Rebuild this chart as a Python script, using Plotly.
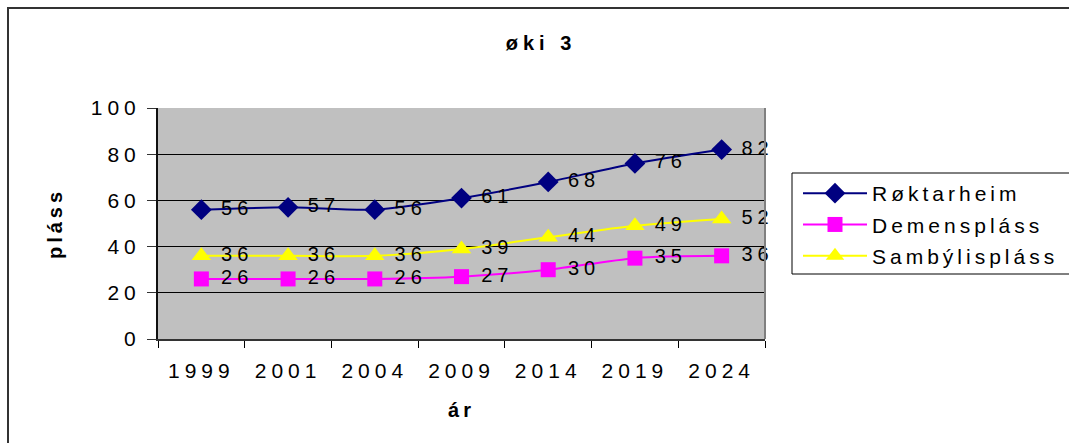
import plotly.graph_objects as go

years = ["1999", "2001", "2004", "2009", "2014", "2019", "2024"]
roktarheim = [56, 57, 56, 61, 68, 76, 82]
demens = [26, 26, 26, 27, 30, 35, 36]
sambyli = [36, 36, 36, 39, 44, 49, 52]

W, H = 1069, 443
L, R, T, B = 158, 765, 108, 339
FONT = "Arial, Liberation Sans, sans-serif"

pw, ph = R - L, B - T
def px(x):
    return (x - L) / pw
def py(y):
    return (B - y) / ph

fig = go.Figure()
series = [
    ("Røktarheim", roktarheim, "#000080", "diamond", 16),
    ("Demenspláss", demens, "#FF00FF", "square", 15),
    ("Sambýlispláss", sambyli, "#FFFF00", "triangle-up", 17),
]
for i, (name, vals, col, sym, sz) in enumerate(series):
    fig.add_trace(go.Scatter(
        x=years, y=vals, name=name, mode="lines+markers",
        legendgroup=f"g{i}",
        line=dict(color=col, width=2, shape="spline", smoothing=0.8),
        marker=dict(symbol=sym, size=sz, color=col, line=dict(width=0)),
        cliponaxis=False,
    ))
for i, (name, vals, col, sym, sz) in enumerate(series):
    # data labels, placed right of each point
    fig.add_trace(go.Scatter(
        x=years, y=vals, mode="markers+text", showlegend=False, hoverinfo="skip",
        marker=dict(size=30, opacity=0, color=col),
        text=[str(v) for v in vals], textposition="middle right",
        textfont=dict(family=FONT, size=20, color="black"),
        cliponaxis=False,
    ))

# outer chart frame
fig.add_shape(type="rect", xref="paper", yref="paper",
              x0=px(8), x1=px(1090), y0=py(470), y1=py(8),
              line=dict(color="#333333", width=2), fillcolor="rgba(0,0,0,0)", layer="below")
# right edge of plot area
fig.add_shape(type="line", xref="paper", yref="paper", x0=1, x1=1, y0=0, y1=1,
              line=dict(color="#808080", width=2), layer="above")
# legend box
fig.add_shape(type="rect", xref="paper", yref="paper",
              x0=px(792), x1=px(1090), y0=py(274), y1=py(173),
              line=dict(color="black", width=1), fillcolor="white", layer="above")

fig.update_layout(
    width=W, height=H,
    margin=dict(l=L, r=W - R, t=T, b=H - B, pad=0),
    paper_bgcolor="white", plot_bgcolor="#C0C0C0",
    font=dict(family=FONT, size=21, color="black"),
    title=dict(text="<b>øki 3</b>", x=px(541), xref="paper", xanchor="center",
               y=1 - 43 / H, yanchor="middle", font=dict(size=20)),
    showlegend=True,
    legend=dict(x=px(798), y=py(173), xanchor="left", yanchor="top",
                bgcolor="rgba(0,0,0,0)", borderwidth=0,
                font=dict(size=21), itemwidth=64, tracegroupgap=1),
    xaxis=dict(type="category", range=[-0.5, 6.5], tickson="boundaries",
               ticks="outside", ticklen=7, tickcolor="black",
               showline=True, linecolor="#333333", linewidth=2,
               showgrid=False, ticklabelstandoff=12,
               title=dict(text="<b>ár</b>", standoff=22, font=dict(size=20))),
    yaxis=dict(range=[0, 100], dtick=20, ticks="outside", ticklen=9, tickcolor="#333333",
               showline=True, linecolor="#111111", linewidth=2,
               showgrid=True, gridcolor="black", gridwidth=1, zeroline=False,
               ticklabelstandoff=2,
               title=dict(text="<b>pláss</b>", standoff=38, font=dict(size=20))),
)

post = """
document.body.style.margin='0';
document.body.style.padding='0';
function sp(sel, v){document.querySelectorAll(sel).forEach(function(t){t.setAttribute('letter-spacing', v);});}
sp('.xtick text', '5px');
sp('.ytick text', '5px');
sp('.textpoint text', '5px');
sp('.legendtext', '4px');
sp('.gtitle', '5px');
sp('.g-xtitle text', '4px');
sp('.g-ytitle text', '4px');
document.querySelectorAll('.legend .scrollbox, .legend').forEach(function(e){e.removeAttribute('clip-path');});
"""

fig.write_html("out.html", post_script=post, config={"displayModeBar": False})
